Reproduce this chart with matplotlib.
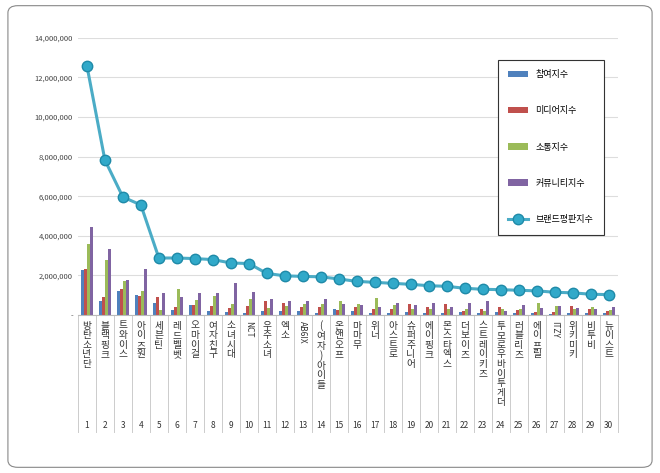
import matplotlib
matplotlib.use("Agg")
import matplotlib.pyplot as plt
from matplotlib.patches import FancyBboxPatch
import numpy as np

plt.rcParams['font.family'] = ['Noto Sans CJK JP', 'Noto Sans CJK KR', 'Noto Sans CJK SC', 'DejaVu Sans']

names = ["방탄소년단","블랙핑크","트와이스","아이즈원","세븐틴","레드벨벳","오마이걸","여자친구","소녀시대","NCT",
         "우주소녀","엑소","AB6IX","(여자)아이들","온앤오프","마마무","위너","아스트로","슈퍼주니어","에이핑크",
         "몬스타엑스","더보이즈","스트레이키즈","투모로우바이투게더","러블리즈","에이프릴","ITZY","위키미키","비투비","뉴이스트"]
participation = [2.27,0.72,1.20,1.03,0.62,0.25,0.49,0.22,0.15,0.12,0.22,0.22,0.22,0.12,0.29,
                 0.20,0.10,0.10,0.15,0.10,0.10,0.15,0.10,0.15,0.10,0.10,0.05,0.10,0.10,0.10]
media = [2.32,0.93,1.30,0.96,0.91,0.42,0.49,0.45,0.34,0.45,0.69,0.61,0.42,0.39,0.25,
         0.40,0.30,0.30,0.55,0.40,0.55,0.20,0.30,0.40,0.25,0.15,0.15,0.45,0.30,0.20]
communication = [3.58,2.78,1.70,1.23,0.25,1.30,0.76,0.96,0.56,0.81,0.34,0.45,0.56,0.56,0.72,
                 0.55,0.85,0.50,0.30,0.30,0.30,0.30,0.20,0.30,0.30,0.60,0.45,0.30,0.40,0.25]
community = [4.46,3.35,1.77,2.32,1.13,0.91,1.13,1.13,1.60,1.14,0.81,0.69,0.72,0.81,0.54,
             0.50,0.40,0.60,0.50,0.60,0.40,0.60,0.70,0.20,0.50,0.35,0.45,0.35,0.30,0.40]
brand = [12.6,7.83,5.96,5.56,2.88,2.88,2.85,2.80,2.63,2.60,2.10,1.98,1.95,1.93,1.82,
         1.70,1.65,1.60,1.55,1.48,1.45,1.35,1.30,1.28,1.25,1.22,1.15,1.12,1.05,1.03]

fig = plt.figure(figsize=(6.6, 4.73), dpi=100)
fig.patches.append(FancyBboxPatch((0.012, 0.012), 0.976, 0.976, boxstyle="round,pad=0,rounding_size=0.015",
                                  transform=fig.transFigure, fill=False, ec="#888888", lw=0.8))
ax = fig.add_axes([0.118, 0.334, 0.818, 0.586])
n = len(names)
x = np.arange(n)
w = 0.16
series = [(participation,"#4F81BD","참여지수"),(media,"#C0504D","미디어지수"),
          (communication,"#9BBB59","소통지수"),(community,"#8064A2","커뮤니티지수")]
for i,(vals,c,lab) in enumerate(series):
    ax.bar(x + (i-1.5)*w, np.array(vals)*1e6, w, color=c, label=lab, zorder=2)
ax.plot(x, np.array(brand)*1e6, color="#4BACC6", lw=2.2, marker='o', ms=7.5,
        mfc="#31A9C9", mec="#1F8AA8", label="브랜드평판지수", zorder=3)
ax.set_xlim(-0.5, n-0.5)
ax.set_ylim(0, 14e6)
ax.set_yticks(np.arange(0, 14.1e6, 2e6))
ax.set_yticklabels(["-"] + [f"{int(v):,}" for v in np.arange(2e6, 14.1e6, 2e6)], fontsize=5.5, color="#444444")
ax.grid(axis='y', color="#dddddd", lw=0.8, zorder=0)
for s in ['top','right','left']:
    ax.spines[s].set_visible(False)
ax.spines['bottom'].set_color("#bbbbbb")
ax.tick_params(axis='both', length=0)
ax.set_xticks([])
tr = ax.get_xaxis_transform()
ybot = -(432-315)/(315-38)
for b in np.arange(-0.5, n, 1):
    ax.plot([b,b],[0,ybot], transform=tr, color="#cccccc", lw=0.7, clip_on=False)
for i,nm in enumerate(names):
    if any('\uac00' <= ch <= '\ud7a3' for ch in nm):
        ax.text(i, -0.02, "\n".join(nm), transform=tr, ha='center', va='top', fontsize=7,
                linespacing=0.95, color="#333333")
    else:
        ax.text(i, -0.02, nm, transform=tr, ha='center', va='top', fontsize=6, rotation=-90, color="#333333")
    ax.text(i, -(425-315)/(315-38), str(i+1), transform=tr, ha='center', va='center', fontsize=6, color="#333333")
h, l = ax.get_legend_handles_labels()
order = [1, 2, 3, 4, 0]
leg = fig.legend([h[k] for k in order], [l[k] for k in order], loc='upper left',
                 bbox_to_anchor=(493/660, 1-55/473), fontsize=6.5, labelspacing=3.0,
                 handlelength=2.2, borderpad=1.2, fancybox=False, edgecolor="#333333", framealpha=1)
leg.get_frame().set_linewidth(0.8)
fig.savefig("out.png", dpi=100)
